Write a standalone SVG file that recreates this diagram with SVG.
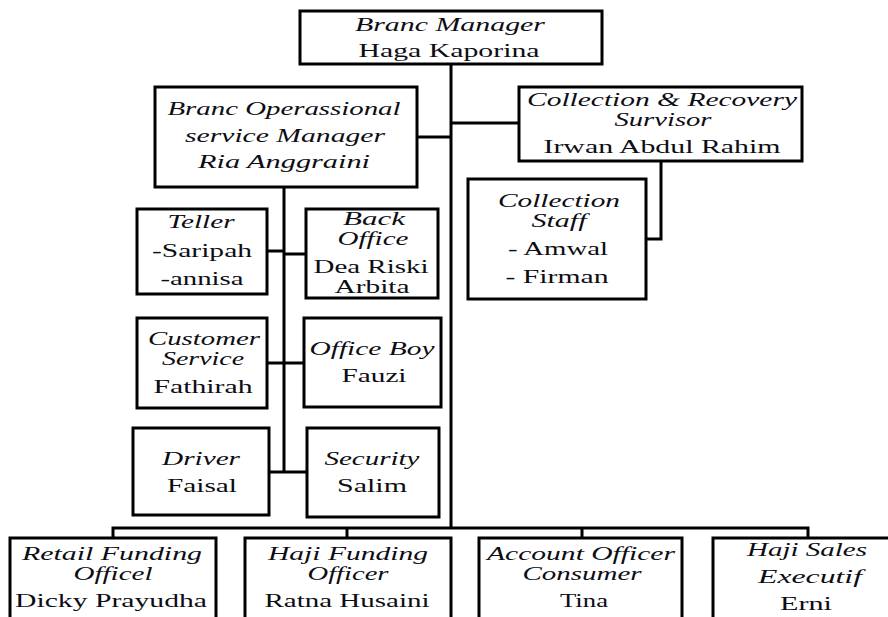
<svg xmlns="http://www.w3.org/2000/svg" width="888" height="617" viewBox="0 0 888 617">
<style>
rect.box{fill:#fff;stroke:#000;stroke-width:3}
.con path{fill:none;stroke:#000;stroke-width:3}
text{font-family:"Liberation Serif","Times New Roman",serif;font-size:19px;fill:#0d0d14;text-anchor:middle}
text.t{font-style:italic}
</style>
<rect width="888" height="617" fill="#fff"/>
<g class="con">
<path d="M451,64 V528"/>
<path d="M417,137 H451"/>
<path d="M451,123 H519"/>
<path d="M661,161 V239 H646"/>
<path d="M284,187 V472"/>
<path d="M267,251 H284"/>
<path d="M284,254 H306"/>
<path d="M267,363 H304"/>
<path d="M269,472 H307"/>
<path d="M113,538 V528 H808 V538"/>
<path d="M347,528 V538"/>
<path d="M582,528 V538"/>
</g>
<g id="branch-manager">
<rect class="box" x="300" y="11" width="302" height="53"/>
<text class="t" x="450" y="31" textLength="190" lengthAdjust="spacingAndGlyphs">Branc Manager</text>
<text x="449" y="57" textLength="181" lengthAdjust="spacingAndGlyphs">Haga Kaporina</text>
</g>
<g id="ops-manager">
<rect class="box" x="155" y="87" width="262" height="100"/>
<text class="t" x="284" y="115" textLength="233" lengthAdjust="spacingAndGlyphs">Branc Operassional</text>
<text class="t" x="285" y="142" textLength="200" lengthAdjust="spacingAndGlyphs">service Manager</text>
<text class="t" x="284" y="168" textLength="172" lengthAdjust="spacingAndGlyphs">Ria Anggraini</text>
</g>
<g id="collection-supervisor">
<rect class="box" x="519" y="87" width="283" height="74"/>
<text class="t" x="662" y="106" textLength="270" lengthAdjust="spacingAndGlyphs">Collection &amp; Recovery</text>
<text class="t" x="663" y="126" textLength="97" lengthAdjust="spacingAndGlyphs">Survisor</text>
<text x="662" y="153" textLength="237" lengthAdjust="spacingAndGlyphs">Irwan Abdul  Rahim</text>
</g>
<g id="collection-staff">
<rect class="box" x="468" y="179" width="178" height="120"/>
<text class="t" x="559" y="207" textLength="122" lengthAdjust="spacingAndGlyphs">Collection</text>
<text class="t" x="559" y="227" textLength="55" lengthAdjust="spacingAndGlyphs">Staff</text>
<text x="558" y="255" textLength="100" lengthAdjust="spacingAndGlyphs">- Amwal</text>
<text x="557" y="283" textLength="103" lengthAdjust="spacingAndGlyphs">- Firman</text>
</g>
<g id="teller">
<rect class="box" x="137" y="209" width="130" height="85"/>
<text class="t" x="201" y="228" textLength="67" lengthAdjust="spacingAndGlyphs">Teller</text>
<text x="202" y="257" textLength="100" lengthAdjust="spacingAndGlyphs">-Saripah</text>
<text x="202" y="285" textLength="83" lengthAdjust="spacingAndGlyphs">-annisa</text>
</g>
<g id="back-office">
<rect class="box" x="306" y="209" width="132" height="89"/>
<text class="t" x="374" y="225" textLength="62" lengthAdjust="spacingAndGlyphs">Back</text>
<text class="t" x="373" y="245" textLength="71" lengthAdjust="spacingAndGlyphs">Office</text>
<text x="371" y="273" textLength="115" lengthAdjust="spacingAndGlyphs">Dea Riski</text>
<text x="372" y="293" textLength="75" lengthAdjust="spacingAndGlyphs">Arbita</text>
</g>
<g id="customer-service">
<rect class="box" x="137" y="318" width="130" height="90"/>
<text class="t" x="204" y="345" textLength="112" lengthAdjust="spacingAndGlyphs">Customer</text>
<text class="t" x="203" y="365" textLength="82" lengthAdjust="spacingAndGlyphs">Service</text>
<text x="203" y="393" textLength="99" lengthAdjust="spacingAndGlyphs">Fathirah</text>
</g>
<g id="office-boy">
<rect class="box" x="304" y="318" width="137" height="89"/>
<text class="t" x="372" y="355" textLength="125" lengthAdjust="spacingAndGlyphs">Office Boy</text>
<text x="374" y="382" textLength="65" lengthAdjust="spacingAndGlyphs">Fauzi</text>
</g>
<g id="driver">
<rect class="box" x="133" y="428" width="136" height="87"/>
<text class="t" x="201" y="465" textLength="78" lengthAdjust="spacingAndGlyphs">Driver</text>
<text x="202" y="492" textLength="70" lengthAdjust="spacingAndGlyphs">Faisal</text>
</g>
<g id="security">
<rect class="box" x="307" y="428" width="132" height="89"/>
<text class="t" x="372" y="465" textLength="95" lengthAdjust="spacingAndGlyphs">Security</text>
<text x="372" y="492" textLength="70" lengthAdjust="spacingAndGlyphs">Salim</text>
</g>
<g id="retail-funding">
<rect class="box" x="10" y="538" width="206" height="100"/>
<text class="t" x="112" y="560" textLength="180" lengthAdjust="spacingAndGlyphs">Retail Funding</text>
<text class="t" x="113" y="580" textLength="79" lengthAdjust="spacingAndGlyphs">Officel</text>
<text x="111" y="607" textLength="192" lengthAdjust="spacingAndGlyphs">Dicky Prayudha</text>
</g>
<g id="haji-funding">
<rect class="box" x="245" y="538" width="206" height="100"/>
<text class="t" x="348" y="560" textLength="160" lengthAdjust="spacingAndGlyphs">Haji Funding</text>
<text class="t" x="348" y="580" textLength="81" lengthAdjust="spacingAndGlyphs">Officer</text>
<text x="347" y="607" textLength="165" lengthAdjust="spacingAndGlyphs">Ratna Husaini</text>
</g>
<g id="account-officer">
<rect class="box" x="479" y="538" width="203" height="100"/>
<text class="t" x="581" y="560" textLength="188" lengthAdjust="spacingAndGlyphs">Account Officer</text>
<text class="t" x="582" y="580" textLength="119" lengthAdjust="spacingAndGlyphs">Consumer</text>
<text x="584" y="607" textLength="48" lengthAdjust="spacingAndGlyphs">Tina</text>
</g>
<g id="haji-sales">
<rect class="box" x="713" y="538" width="200" height="100"/>
<text class="t" x="807" y="556" textLength="120" lengthAdjust="spacingAndGlyphs">Haji Sales</text>
<text class="t" x="810" y="583" textLength="104" lengthAdjust="spacingAndGlyphs">Executif</text>
<text x="806" y="610" textLength="52" lengthAdjust="spacingAndGlyphs">Erni</text>
</g>
</svg>
